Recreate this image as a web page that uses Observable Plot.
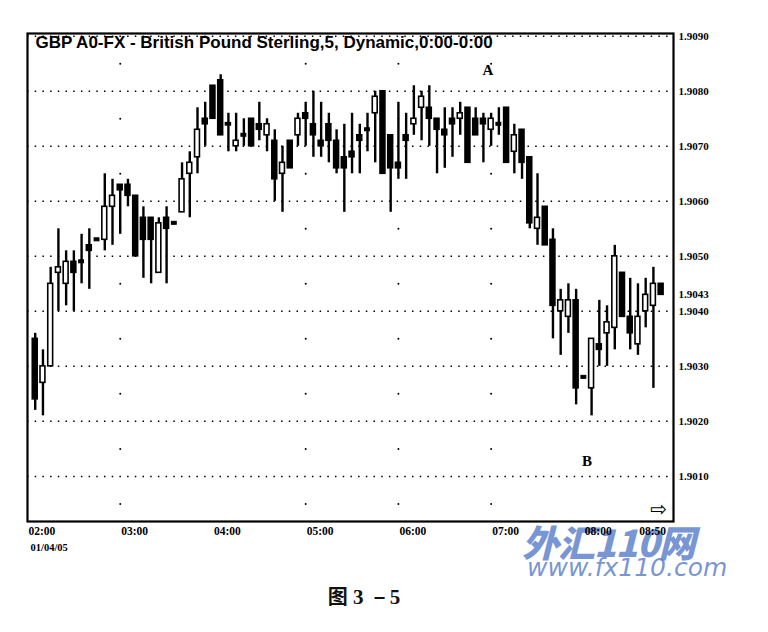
<!DOCTYPE html>
<html>
<head>
<meta charset="utf-8">
<script src="https://cdn.jsdelivr.net/npm/d3@7"></script>
<script src="https://cdn.jsdelivr.net/npm/@observablehq/plot@0.6"></script>
<style>
  html, body { margin: 0; padding: 0; background: #fff; }
  #wrap { position: relative; width: 768px; height: 632px; overflow: hidden; background: #fff; }
  #chart { position: relative; z-index: 2; }
  #chart svg { display: block; }
  #caption { position: absolute; left: 364px; top: 581px; transform: translateX(-50%);
    font-weight: bold; font-size: 20px; color: #111; white-space: nowrap; }
  #caption .cjk { font-family: "Noto Sans CJK SC", sans-serif; }
  #caption .num { font-family: "Liberation Serif", serif; font-size: 21px; }
  .wm { position: absolute; z-index: 1; white-space: nowrap; color: rgba(95,130,205,0.85); }
  #wm1 { left: 522px; top: 524px; line-height: 34px; font-family: "Noto Sans CJK SC", sans-serif;
    font-weight: 900; font-style: italic; font-size: 37px; letter-spacing: -1px; }
  #wm2 { left: 527px; top: 557px; line-height: 22px; font-family: "DejaVu Sans", sans-serif; font-style: italic; font-size: 25px; }
  #arrow { position: absolute; z-index: 3; left: 650px; top: 497px; font-family: "DejaVu Sans", sans-serif; font-size: 20px; color: #000; }
</style>
</head>
<body>
<div id="wrap">
  <div id="wm1" class="wm">外汇110网</div>
  <div id="wm2" class="wm">www.fx110.com</div>
  <div id="chart"></div>
  <div id="arrow">⇨</div>
  <div id="caption"><span class="cjk">图</span><span class="num"> 3 －5</span></div>
</div>
<script>
// ---- Data (5-minute candles, 02:05 .. 08:50) ----
const opens  = [1.9035,1.9027,1.9030,1.9047,1.9045,1.9049,1.9049,1.9052,1.9053,1.9053,
                1.9059,1.9063,1.9063,1.9061,1.9057,1.9057,1.9047,1.9057,1.9056,1.9058,
                1.9065,1.9068,1.9075,1.9081,1.9082,1.90742,1.9070,1.9072,1.9075,1.9074,
                1.9072,1.9071,1.9065,1.9071,1.9072,1.9076,1.9074,1.9071,1.9074,1.9071,
                1.9068,1.9069,1.9072,1.9073,1.9076,1.9080,1.9072,1.9067,1.9072,1.9074,
                1.9077,1.9077,1.9075,1.9073,1.9075,1.9075,1.9077,1.9075,1.9075,1.9073,
                1.9074,1.9077,1.9069,1.9073,1.9068,1.9055,1.9059,1.9053,1.9040,1.9039,
                1.9042,1.9028,1.9026,1.9034,1.9036,1.9037,1.9047,1.9039,1.9034,1.9040,
                1.9041,1.9045];
const highs  = [1.9036,1.9033,1.9048,1.9055,1.9051,1.9051,1.9054,1.9055,1.9053,1.9065,
                1.9064,1.9063,1.9064,1.9061,1.9059,1.9057,1.9057,1.9059,1.9056,1.9067,
                1.9069,1.9077,1.9078,1.9081,1.9083,1.9076,1.9076,1.9075,1.9075,1.9078,
                1.9075,1.9073,1.9070,1.9071,1.9076,1.9078,1.9080,1.9078,1.9076,1.9073,
                1.9074,1.9076,1.9074,1.9076,1.9080,1.9080,1.9072,1.9078,1.9076,1.9081,
                1.9080,1.9081,1.9075,1.9077,1.9077,1.9078,1.9077,1.9077,1.9076,1.9076,
                1.9077,1.9077,1.9074,1.9073,1.9068,1.9065,1.9059,1.9055,1.9044,1.9045,
                1.9044,1.9028,1.9035,1.9042,1.9041,1.9052,1.9047,1.9046,1.9045,1.9046,
                1.9048,1.9045];
const lows   = [1.9022,1.9021,1.9030,1.9040,1.9041,1.9040,1.9045,1.9044,1.9053,1.9051,
                1.9052,1.9054,1.9059,1.9050,1.9046,1.9045,1.9047,1.9045,1.9056,1.9058,
                1.9057,1.9065,1.9070,1.9075,1.9072,1.9069,1.9069,1.9070,1.9070,1.9071,
                1.9069,1.9060,1.9058,1.9066,1.9070,1.9070,1.9068,1.9068,1.9067,1.9065,
                1.9058,1.9065,1.9065,1.9069,1.9067,1.9065,1.9058,1.9064,1.9064,1.9072,
                1.9071,1.9070,1.9065,1.9066,1.9068,1.9072,1.9067,1.9072,1.9067,1.9070,
                1.9072,1.9067,1.9065,1.9064,1.9055,1.9052,1.9052,1.9035,1.9032,1.9036,
                1.9023,1.9028,1.9021,1.9030,1.9030,1.9033,1.9039,1.9033,1.9032,1.9037,
                1.9026,1.9043];
const closes = [1.9024,1.9030,1.9045,1.9048,1.9049,1.9047,1.9049,1.9051,1.9053,1.9059,
                1.9061,1.9062,1.9061,1.9050,1.9053,1.9053,1.9056,1.9055,1.9056,1.9064,
                1.9067,1.9073,1.9074,1.9075,1.9072,1.90738,1.9071,1.9072,1.9070,1.9073,
                1.9074,1.9064,1.9067,1.9066,1.9075,1.9075,1.9072,1.9070,1.9071,1.9066,
                1.9066,1.9068,1.9071,1.9073,1.9079,1.9065,1.9066,1.9066,1.9071,1.9075,
                1.9079,1.9075,1.9073,1.9072,1.9074,1.9076,1.9067,1.9072,1.9074,1.9075,
                1.9074,1.9067,1.9072,1.9067,1.9056,1.9057,1.9052,1.9041,1.9042,1.9042,
                1.9026,1.9028,1.9035,1.9033,1.9038,1.9050,1.9039,1.9036,1.9039,1.9043,
                1.9045,1.9043];

const yTicks = [1.9090,1.9080,1.9070,1.9060,1.9050,1.9043,1.9040,1.9030,1.9020,1.9010];
const gridLevels = [1.9090,1.9080,1.9070,1.9060,1.9050,1.9040,1.9030,1.9020,1.9010];
const xTickLabels = ["02:00","03:00","04:00","05:00","06:00","07:00","08:00"];
const lastTickLabel = "08:50";
const gridHours = ["03:00","05:00","06:00","07:00"];
const dateLabel = "01/04/05";
const title = "GBP A0-FX - British Pound Sterling,5, Dynamic,0:00-0:00";
const notes = [{label: "A", time: "06:58", price: 1.90838}, {label: "B", time: "08:02", price: 1.90127}];

// ---- Build tables ----
const day = Date.UTC(2005, 0, 4);
const MIN = 60000;
const at = s => { const [h, m] = s.split(":").map(Number); return new Date(day + (h * 60 + m) * MIN); };
const start = at("02:00");
const candles = opens.map((o, i) => ({
  t: new Date(+start + 5 * (i + 1) * MIN), o, h: highs[i], l: lows[i], c: closes[i]
}));
const halfW = 95000;
const vDots = gridHours.flatMap(h => gridLevels.map(v => ({t: at(h), p: v - 0.0005})));

const chart = Plot.plot({
  width: 768, height: 575,
  marginLeft: 27, marginRight: 95, marginTop: 33, marginBottom: 54,
  style: {fontFamily: "Liberation Serif, serif", fontSize: "11px", fontWeight: "bold", color: "#000", background: "transparent"},
  x: {type: "utc", domain: [start, at("08:58")], axis: null},
  y: {domain: [1.90018, 1.90905], axis: null},
  marks: [
    Plot.ruleY(gridLevels, {stroke: "#000", strokeWidth: 1.5, strokeDasharray: "1.5,6.2"}),
    Plot.dot(vDots, {x: "t", y: "p", r: 1, fill: "#000", stroke: null}),
    Plot.ruleX(candles, {x: "t", y1: "l", y2: "h", stroke: "#000", strokeWidth: 2.4}),
    Plot.rect(candles.filter(d => d.o !== d.c), {
      x1: d => new Date(+d.t - halfW), x2: d => new Date(+d.t + halfW),
      y1: "o", y2: "c",
      fill: d => d.c > d.o ? "#fff" : "#000", stroke: "#000", strokeWidth: 1.6
    }),
    Plot.rect(candles.filter(d => d.o === d.c), {
      x1: d => new Date(+d.t - halfW), x2: d => new Date(+d.t + halfW),
      y1: "o", y2: "c", insetTop: -1.5, insetBottom: -1.5,
      fill: "#000", stroke: "#000", strokeWidth: 1
    }),
    Plot.frame({stroke: "#000", strokeWidth: 2.2}),
    Plot.axisY(yTicks, {anchor: "right", tickSize: 0, tickPadding: 5, tickFormat: d3.format(".4f"),
      fontSize: 11, fontWeight: "bold"}),
    Plot.text(xTickLabels, {x: d => at(d), frameAnchor: "bottom", lineAnchor: "top", dy: 5, dx: 1,
      text: d => d, textAnchor: "start", fontSize: 11.5, fontWeight: "bold"}),
    Plot.text([lastTickLabel], {x: d => at(d), frameAnchor: "bottom", lineAnchor: "top", dy: 5, dx: 5,
      text: d => d, textAnchor: "end", fontSize: 11.5, fontWeight: "bold"}),
    Plot.text([dateLabel], {x: () => start, frameAnchor: "bottom", lineAnchor: "top", dy: 22, dx: 3,
      text: d => d, textAnchor: "start", fontSize: 10.5, fontWeight: "bold"}),
    Plot.text([title], {frameAnchor: "top-left", dx: 8, dy: 2, lineAnchor: "top", text: d => d,
      fontFamily: "Liberation Sans, Arial, sans-serif", fontSize: 17, fontWeight: "bold", fill: "#000"}),
    Plot.text(notes, {x: d => at(d.time), y: "price", text: "label",
      fontFamily: "Liberation Serif, serif", fontSize: 15, fontWeight: "bold"})
  ]
});
document.getElementById("chart").appendChild(chart);
</script>
</body>
</html>
